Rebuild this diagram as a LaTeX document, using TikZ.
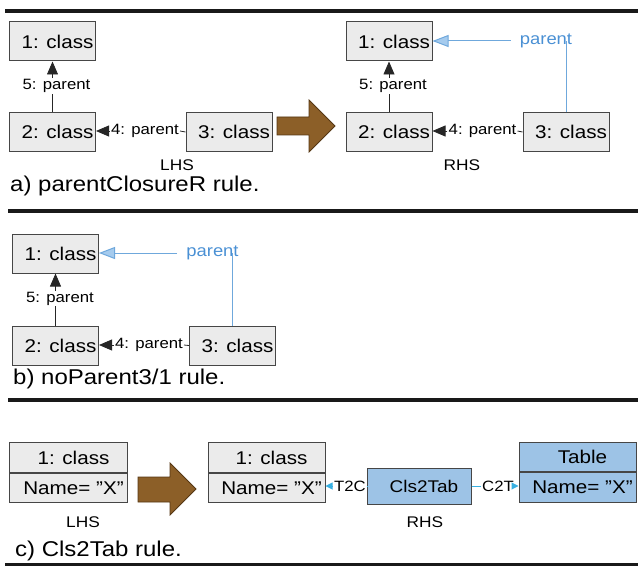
\documentclass[tikz,border=0pt]{standalone}
\usepackage{fontspec}
\setmainfont{Liberation Sans}[FakeStretch=1.12]
\usetikzlibrary{arrows.meta,calc}
\definecolor{boxgray}{RGB}{235,235,235}
\definecolor{edgegray}{RGB}{70,70,70}
\definecolor{boxblue}{RGB}{157,195,230}
\definecolor{linkblue}{RGB}{111,168,220}
\definecolor{textblue}{RGB}{74,144,212}
\definecolor{tipblue}{RGB}{165,203,238}
\definecolor{cyanlink}{RGB}{55,175,225}
\definecolor{brownfill}{RGB}{140,95,40}
\definecolor{browndraw}{RGB}{85,55,20}
\begin{document}
\begin{tikzpicture}[x=1bp,y=-1bp,
  cls/.style={draw=edgegray, line width=1bp, fill=boxgray, minimum width=86bp,
    minimum height=39bp, inner sep=0pt, font=\fontsize{18.5}{20}\selectfont,
    execute at begin node={\hspace*{10bp}}},
  row/.style={cls, minimum width=117bp, minimum height=29.5bp},
  bluerow/.style={row, fill=boxblue},
  lbl/.style={font=\fontsize{15}{16}\selectfont, inner sep=1bp},
  side/.style={font=\fontsize{15.5}{17}\selectfont, inner sep=0pt},
  caption/.style={font=\fontsize{21.5}{24}\selectfont, anchor=west, inner sep=0pt},
  rulethick/.style={line width=4bp, draw=black!90},
  rulethin/.style={line width=2.5bp, draw=black!90},
  ptr/.style={line width=0.8bp, draw=black!85, -{Triangle[length=13bp,width=11bp]}},
  plain/.style={line width=0.8bp, draw=black!85},
  bluelink/.style={line width=1bp, draw=linkblue},
  bluetip/.style={bluelink, -{Triangle[length=16bp,width=12bp,fill=tipblue]}},
  cyanline/.style={line width=1bp, draw=cyanlink},
  cyantip/.style={cyanline, -{Triangle[length=7bp,width=7bp,fill=cyanlink]}},
  bigarrow/.style={fill=brownfill, draw=browndraw, line width=0.8bp},
  plabel/.style={font=\fontsize{16.5}{18}\selectfont, text=textblue, inner xsep=9bp, inner ysep=1bp},
]
\useasboundingbox (0,0) rectangle (638,567);

% horizontal separators
\draw[rulethick] (5,11) -- (638,11);
\draw[rulethick] (8,211) -- (638,211);
\draw[rulethick] (8,399.5) -- (638,399.5);
\draw[rulethin] (5,564.5) -- (638,564.5);

% ---------- a) parentClosureR ----------
\node[cls] (a1) at (52.5,41.5) {1: class};
\node[cls] (a2) at (52.5,132) {2: class};
\node[cls] (a3) at (229,132) {3: class};
\node[lbl] (a5) at (56.5,86) {5: parent};
\draw[plain] (a2.north) -- (a2.north |- a5.south);
\draw[ptr] (a1.south |- a5.north) -- (a1.south);
\node[lbl] (a4) at (145,131) {4: parent};
\draw[plain] (a3.west) -- (a4.east);
\draw[ptr] (a4.west) -- (a4.west -| a2.east);
\node[side] (lhsa) at (177,165) {LHS};

\draw[bigarrow] (277,117) -- (309,117) -- (309,100) -- (335,126) -- (309,152)
  -- (309,135) -- (277,135) -- cycle;

\node[cls] (r1) at (389,41.5) {1: class};
\node[cls] (r2) at (389,132) {2: class};
\node[cls] (r3) at (566,132) {3: class};
\node[lbl] (r5) at (393,86) {5: parent};
\draw[plain] (r2.north) -- (r2.north |- r5.south);
\draw[ptr] (r1.south |- r5.north) -- (r1.south);
\node[lbl] (r4) at (482.5,131) {4: parent};
\draw[plain] (r3.west) -- (r4.east);
\draw[ptr] (r4.west) -- (r4.west -| r2.east);
\node[plabel] (rp) at (546,41) {parent};
\coordinate (rk) at (r3.north |- rp);
\draw[bluelink] (r3.north) -- (rk);
\draw[bluetip] (rp.west) -- (rp.west -| r1.east);
\node[side] (rhsa) at (462,165) {RHS};

\node[caption] (capa) at (10,186) {a) parentClosureR rule.};

% ---------- b) noParent3/1 ----------
\node[cls] (b1) at (55.5,253.5) {1: class};
\node[cls] (b2) at (55.5,345.5) {2: class};
\node[cls] (b3) at (232.5,345.5) {3: class};
\node[lbl] (b5) at (60,298.5) {5: parent};
\draw[plain] (b2.north) -- (b2.north |- b5.south);
\draw[ptr] (b1.south |- b5.north) -- (b1.south);
\node[lbl] (b4) at (149,345) {4: parent};
\draw[plain] (b3.west) -- (b4.east);
\draw[ptr] (b4.west) -- (b4.west -| b2.east);
\node[plabel] (bp) at (212.5,253) {parent};
\coordinate (bk) at (b3.north |- bp);
\draw[bluelink] (b3.north) -- (bk);
\draw[bluetip] (bp.west) -- (bp.west -| b1.east);

\node[caption] (capb) at (13,379) {b) noParent3/1 rule.};

% ---------- c) Cls2Tab ----------
\node[row] (c1) at (68.5,457.5) {1: class};
\node[row, anchor=north] (c1n) at (c1.south) {Name= ”X”};
\node[side] (lhsc) at (83,522) {LHS};

\draw[bigarrow] (138,477) -- (170,477) -- (170,463) -- (196,489) -- (170,515)
  -- (170,502) -- (138,502) -- cycle;

\node[row] (d1) at (266.5,457.5) {1: class};
\node[row, anchor=north] (d1n) at (d1.south) {Name= ”X”};
\node[cls, fill=boxblue, minimum width=104bp, minimum height=36bp,
  font=\fontsize{17}{19}\selectfont] (ct) at (419,486) {Cls2Tab};
\node[bluerow] (tb) at (577.5,457) {Table};
\node[bluerow, anchor=north] (tbn) at (tb.south) {Name= ”X”};

\node[lbl] (t2c) at (350,486) {T2C};
\draw[cyanline] (ct.west) -- (t2c.east);
\draw[cyantip] (t2c.west) -- (t2c.west -| d1n.east);
\node[lbl] (c2t) at (498,486) {C2T};
\draw[cyanline] (ct.east) -- (c2t.west);
\draw[cyantip] (c2t.east) -- (c2t.east -| tbn.west);
\node[side] (rhsc) at (425,522) {RHS};

\node[caption] (capc) at (15,551) {c) Cls2Tab rule.};
\end{tikzpicture}
\end{document}
